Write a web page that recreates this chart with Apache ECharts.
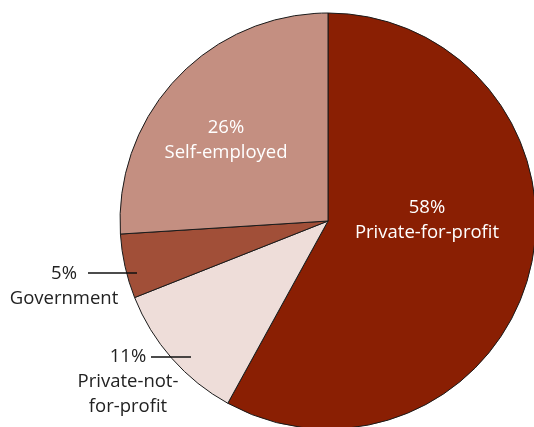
<!DOCTYPE html>
<html>
<head>
<meta charset="utf-8">
<script src="https://cdn.jsdelivr.net/npm/echarts@6/dist/echarts.min.js"></script>
<style>
  html, body { margin: 0; padding: 0; background: #fff; }
  #chart { width: 534px; height: 427px; }
</style>
</head>
<body>
<div id="chart"></div>
<script>
// slice order is clockwise from 12 o'clock
const categories = ['Private-for-profit', 'Private-not-\nfor-profit', 'Government', 'Self-employed'];
const shares = [58, 11, 5, 26];
const colors = ['#8A1F03', '#EEDDD9', '#A14F38', '#C48F81'];

// label anchors (px) and leader lines
const labelPos = [
  { x: 427, y: 220 },
  { x: 128, y: 382, line: [[151, 357], [191, 357]] },
  { x: 64, y: 286, line: [[88, 273], [137, 273]] },
  { x: 226, y: 140 }
];
const insideLabel = [true, false, false, true];

const chart = echarts.init(document.getElementById('chart'));

const option = {
  animation: false,
  // leader lines sit above the sectors, so draw them as graphics
  graphic: labelPos.filter(p => p.line).map(p => ({
    type: 'line',
    z: 100,
    shape: { x1: p.line[0][0], y1: p.line[0][1], x2: p.line[1][0], y2: p.line[1][1] },
    style: { stroke: '#111', lineWidth: 1.6 }
  })),
  series: [
    {
      type: 'pie',
      center: [328, 221],
      radius: 208,
      startAngle: 90,
      clockwise: true,
      avoidLabelOverlap: false,
      itemStyle: { borderColor: '#1a1a1a', borderWidth: 1 },
      emphasis: { disabled: true },
      label: {
        formatter: '{c}%\n{b}',
        fontFamily: 'Open Sans',
        fontSize: 18.5,
        lineHeight: 25,
        align: 'center'
      },
      labelLine: { show: false },
      labelLayout: function (p) {
        const pos = labelPos[p.dataIndex];
        return { x: pos.x, y: pos.y, align: 'center', verticalAlign: 'middle' };
      },
      data: categories.map((name, i) => ({
        name: name,
        value: shares[i],
        itemStyle: { color: colors[i] },
        label: { color: insideLabel[i] ? '#fff' : '#222' }
      }))
    }
  ]
};

chart.setOption(option);
</script>
</body>
</html>
